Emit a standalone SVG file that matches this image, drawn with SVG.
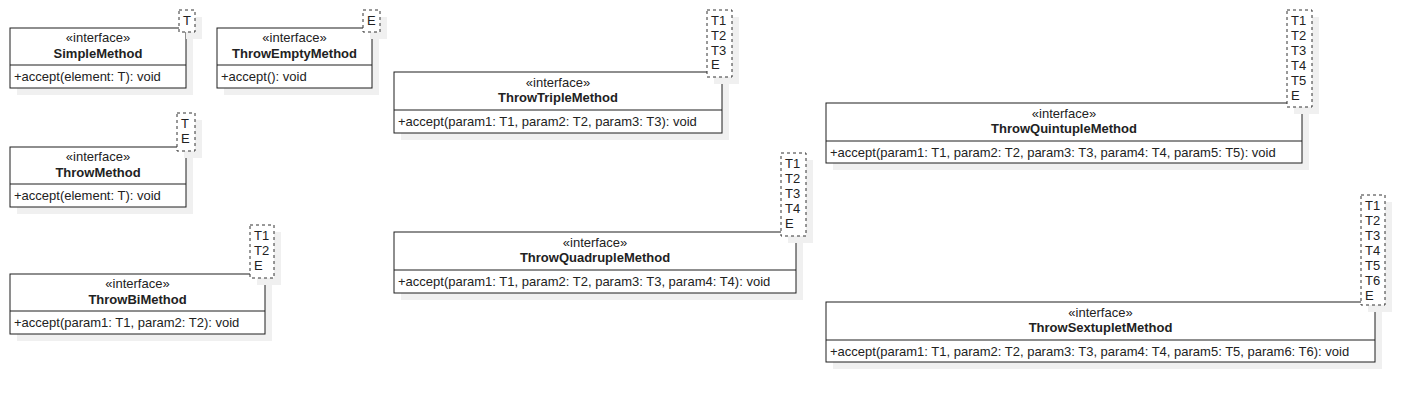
<svg xmlns="http://www.w3.org/2000/svg" width="1425" height="402" viewBox="0 0 1425 402">
<style>
text{font-family:"Liberation Sans",Arial,sans-serif;font-size:13px;fill:#222}
.st{text-anchor:middle}
.nm{text-anchor:middle;font-weight:bold}
.box{fill:#fff;stroke:#1e1e1e;stroke-width:1}
.sh{fill:#f0f0f0;stroke:none}
.tpl{fill:#fff;stroke:#333;stroke-width:1;stroke-dasharray:3 3}
.div{stroke:#1e1e1e;stroke-width:1}
</style>
<rect width="1425" height="402" fill="#fff"/>

<g id="SimpleMethod">
<rect class="sh" x="17" y="35" width="176" height="60"/>
<rect class="box" x="10" y="28" width="176" height="60"/>
<line class="div" x1="10" y1="65" x2="186" y2="65"/>
<text class="st" x="98" y="42">«interface»</text>
<text class="nm" x="98" y="57.5">SimpleMethod</text>
<text x="14" y="81">+accept(element: T): void</text>
<rect class="sh" x="186" y="17" width="16" height="22"/>
<rect class="tpl" x="179" y="10" width="16" height="22"/>
<text x="183" y="25">T</text>
</g>

<g id="ThrowEmptyMethod">
<rect class="sh" x="224" y="35" width="155" height="60"/>
<rect class="box" x="217" y="28" width="155" height="60"/>
<line class="div" x1="217" y1="65" x2="372" y2="65"/>
<text class="st" x="294.5" y="42">«interface»</text>
<text class="nm" x="294.5" y="57.5">ThrowEmptyMethod</text>
<text x="221" y="81">+accept(): void</text>
<rect class="sh" x="370" y="17" width="17" height="22"/>
<rect class="tpl" x="363" y="10" width="17" height="22"/>
<text x="367" y="25">E</text>
</g>

<g id="ThrowMethod">
<rect class="sh" x="17" y="154" width="176" height="60"/>
<rect class="box" x="10" y="147" width="176" height="60"/>
<line class="div" x1="10" y1="184" x2="186" y2="184"/>
<text class="st" x="98" y="161">«interface»</text>
<text class="nm" x="98" y="176.5">ThrowMethod</text>
<text x="14" y="200">+accept(element: T): void</text>
<rect class="sh" x="184" y="120" width="18" height="38"/>
<rect class="tpl" x="177" y="113" width="18" height="38"/>
<text x="181" y="128">T</text>
<text x="181" y="143">E</text>
</g>

<g id="ThrowBiMethod">
<rect class="sh" x="17" y="281" width="255" height="60"/>
<rect class="box" x="10" y="274" width="255" height="60"/>
<line class="div" x1="10" y1="311" x2="265" y2="311"/>
<text class="st" x="137.5" y="288">«interface»</text>
<text class="nm" x="137.5" y="303.5">ThrowBiMethod</text>
<text x="14" y="327">+accept(param1: T1, param2: T2): void</text>
<rect class="sh" x="257" y="232" width="24" height="53"/>
<rect class="tpl" x="250" y="225" width="24" height="53"/>
<text x="254" y="240">T1</text>
<text x="254" y="255">T2</text>
<text x="254" y="270">E</text>
</g>

<g id="ThrowTripleMethod">
<rect class="sh" x="401" y="79" width="328" height="61"/>
<rect class="box" x="394" y="72" width="328" height="61"/>
<line class="div" x1="394" y1="110" x2="722" y2="110"/>
<text class="st" x="558" y="86.5">«interface»</text>
<text class="nm" x="558" y="102">ThrowTripleMethod</text>
<text x="398" y="126">+accept(param1: T1, param2: T2, param3: T3): void</text>
<rect class="sh" x="714" y="17" width="25" height="67"/>
<rect class="tpl" x="707" y="10" width="25" height="67"/>
<text x="711" y="25">T1</text>
<text x="711" y="39.8">T2</text>
<text x="711" y="54.6">T3</text>
<text x="711" y="69.4">E</text>
</g>

<g id="ThrowQuadrupleMethod">
<rect class="sh" x="401" y="239" width="402" height="61"/>
<rect class="box" x="394" y="232" width="402" height="61"/>
<line class="div" x1="394" y1="270" x2="796" y2="270"/>
<text class="st" x="595" y="246.5">«interface»</text>
<text class="nm" x="595" y="262">ThrowQuadrupleMethod</text>
<text x="398" y="286">+accept(param1: T1, param2: T2, param3: T3, param4: T4): void</text>
<rect class="sh" x="788" y="160" width="25" height="83"/>
<rect class="tpl" x="781" y="153" width="25" height="83"/>
<text x="785" y="168">T1</text>
<text x="785" y="183">T2</text>
<text x="785" y="198">T3</text>
<text x="785" y="213">T4</text>
<text x="785" y="228">E</text>
</g>

<g id="ThrowQuintupleMethod">
<rect class="sh" x="833" y="110" width="476" height="60"/>
<rect class="box" x="826" y="103" width="476" height="60"/>
<line class="div" x1="826" y1="141" x2="1302" y2="141"/>
<text class="st" x="1064" y="117.5">«interface»</text>
<text class="nm" x="1064" y="133">ThrowQuintupleMethod</text>
<text x="830" y="157">+accept(param1: T1, param2: T2, param3: T3, param4: T4, param5: T5): void</text>
<rect class="sh" x="1294" y="17" width="25" height="97"/>
<rect class="tpl" x="1287" y="10" width="25" height="97"/>
<text x="1291" y="25">T1</text>
<text x="1291" y="40">T2</text>
<text x="1291" y="55">T3</text>
<text x="1291" y="70">T4</text>
<text x="1291" y="85">T5</text>
<text x="1291" y="100">E</text>
</g>

<g id="ThrowSextupletMethod">
<rect class="sh" x="833" y="309" width="549" height="60"/>
<rect class="box" x="826" y="302" width="549" height="60"/>
<line class="div" x1="826" y1="340" x2="1375" y2="340"/>
<text class="st" x="1100.5" y="316.5">«interface»</text>
<text class="nm" x="1100.5" y="332">ThrowSextupletMethod</text>
<text x="830" y="356">+accept(param1: T1, param2: T2, param3: T3, param4: T4, param5: T5, param6: T6): void</text>
<rect class="sh" x="1368" y="202" width="24" height="110"/>
<rect class="tpl" x="1361" y="195" width="24" height="110"/>
<text x="1365" y="209.5">T1</text>
<text x="1365" y="224.6">T2</text>
<text x="1365" y="239.7">T3</text>
<text x="1365" y="254.8">T4</text>
<text x="1365" y="269.9">T5</text>
<text x="1365" y="285">T6</text>
<text x="1365" y="300">E</text>
</g>

<g id="connectors"></g>
</svg>
